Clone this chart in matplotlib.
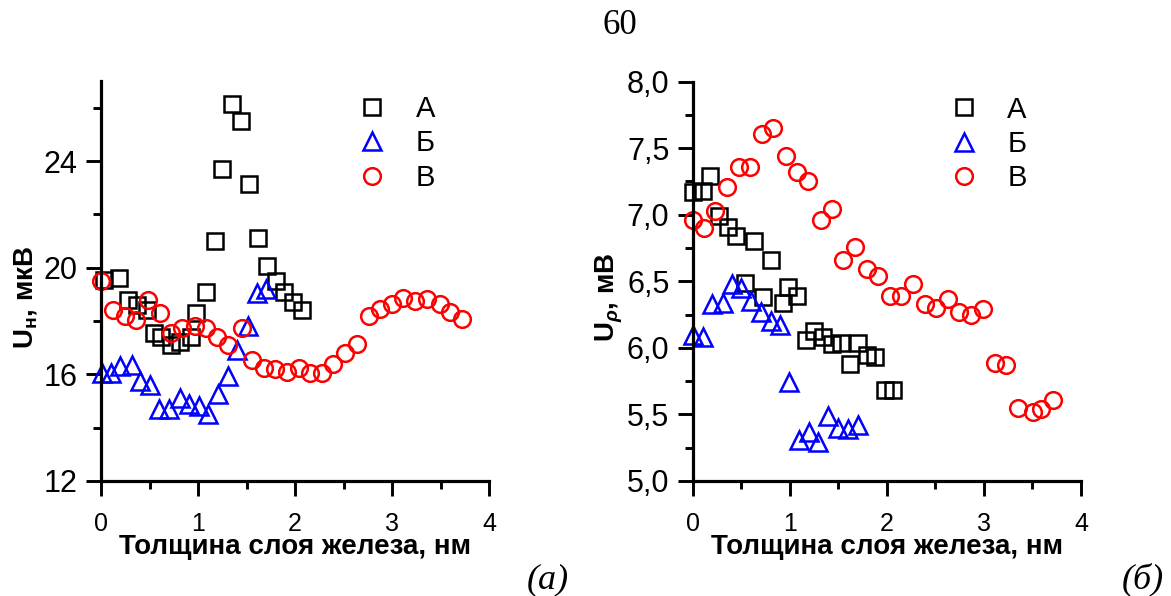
import matplotlib
matplotlib.use("Agg")
import matplotlib.pyplot as plt
from matplotlib.ticker import MultipleLocator, FuncFormatter

plt.rcParams['font.family'] = ['Liberation Sans', 'DejaVu Sans']
plt.rcParams['mathtext.fontset'] = 'custom'
plt.rcParams['mathtext.rm'] = 'Liberation Sans:bold'
plt.rcParams['mathtext.it'] = 'Liberation Sans:italic:bold'
plt.rcParams['mathtext.bf'] = 'Liberation Sans:bold'

# panel (a): U_H, мкВ
a_xA = [0.03, 0.18, 0.28, 0.37, 0.47, 0.55, 0.62, 0.72, 0.81, 0.93, 0.98, 1.08, 1.17,
        1.25, 1.35, 1.44, 1.53, 1.62, 1.71, 1.80, 1.89, 1.98, 2.07]
a_yA = [19.55, 19.6, 18.8, 18.6, 18.4, 17.55, 17.4, 17.1, 17.2, 17.4, 18.3, 19.1, 21.0,
        23.7, 26.15, 25.5, 23.15, 21.1, 20.07, 19.5, 19.1, 18.7, 18.4]
a_xB = [0.01, 0.1, 0.2, 0.32, 0.4, 0.5, 0.6, 0.7, 0.81, 0.91, 1.01, 1.1, 1.21, 1.31,
        1.4, 1.52, 1.61, 1.7]
a_yB = [16.05, 16.05, 16.3, 16.35, 15.75, 15.6, 14.7, 14.7, 15.1, 14.9, 14.8, 14.5,
        15.25, 15.95, 16.9, 17.8, 19.05, 19.2]
a_xC = [0.0, 0.12, 0.25, 0.36, 0.48, 0.61, 0.72, 0.83, 0.97, 1.08, 1.2, 1.31, 1.45, 1.56,
        1.68, 1.79, 1.92, 2.04, 2.15, 2.28, 2.39, 2.52, 2.64, 2.76, 2.88, 3.0, 3.11, 3.24,
        3.36, 3.49, 3.6, 3.72]
a_yC = [19.5, 18.4, 18.2, 18.05, 18.8, 18.3, 17.55, 17.75, 17.8, 17.75, 17.4, 17.1, 17.75,
        16.55, 16.25, 16.2, 16.1, 16.25, 16.05, 16.05, 16.4, 16.8, 17.15, 18.2, 18.45,
        18.65, 18.85, 18.75, 18.83, 18.65, 18.35, 18.08]

# panel (б): U_rho, мВ
b_xA = [0.0, 0.1, 0.18, 0.27, 0.36, 0.44, 0.54, 0.63, 0.72, 0.8, 0.93, 0.98, 1.07, 1.16,
        1.25, 1.34, 1.43, 1.53, 1.62, 1.70, 1.79, 1.88, 1.98, 2.06]
b_yA = [7.17, 7.18, 7.29, 6.99, 6.91, 6.84, 6.49, 6.8, 6.38, 6.66, 6.34, 6.46, 6.39, 6.06,
        6.13, 6.08, 6.03, 6.04, 5.88, 6.04, 5.95, 5.93, 5.68, 5.68]
b_xB = [0.0, 0.1, 0.2, 0.31, 0.4, 0.5, 0.6, 0.7, 0.8, 0.9, 0.99, 1.09, 1.2, 1.29, 1.39,
        1.49, 1.6, 1.7]
b_yB = [6.1, 6.08, 6.33, 6.34, 6.48, 6.45, 6.35, 6.27, 6.2, 6.17, 5.74, 5.31, 5.37, 5.29,
        5.49, 5.4, 5.39, 5.42]
b_xC = [0.0, 0.11, 0.23, 0.35, 0.47, 0.59, 0.71, 0.83, 0.96, 1.07, 1.19, 1.32, 1.43, 1.55,
        1.67, 1.79, 1.91, 2.03, 2.14, 2.27, 2.39, 2.51, 2.63, 2.74, 2.87, 2.99, 3.11, 3.23,
        3.35, 3.51, 3.59, 3.71]
b_yC = [6.96, 6.9, 7.03, 7.21, 7.36, 7.36, 7.61, 7.65, 7.44, 7.32, 7.25, 6.96, 7.04, 6.66,
        6.76, 6.59, 6.54, 6.39, 6.39, 6.48, 6.33, 6.3, 6.37, 6.27, 6.25, 6.29, 5.89, 5.87,
        5.55, 5.52, 5.54, 5.61]

names = ['А', 'Б', 'В']
xlabel = 'Толщина слоя железа, нм'


def style_axis(ax):
    for s in ['top', 'right']:
        ax.spines[s].set_visible(False)
    for s in ['left', 'bottom']:
        ax.spines[s].set_linewidth(2.3)
    ax.set_xlim(0, 4)
    ax.xaxis.set_major_locator(MultipleLocator(1))
    ax.xaxis.set_minor_locator(MultipleLocator(0.5))
    ax.tick_params(which='major', direction='out', length=11, width=2.1)
    ax.tick_params(which='minor', direction='out', length=6, width=2.1)
    ax.tick_params(axis='y', labelsize=22, pad=6)
    ax.tick_params(axis='x', labelsize=18, pad=11)
    ax.set_xlabel(xlabel, fontsize=20, fontweight='bold', labelpad=-1)


def draw(ax, xa, ya, xb, yb, xc, yc):
    kw = dict(linestyle='none', markerfacecolor='none', markeredgewidth=1.8, clip_on=False)
    ax.plot(xa, ya, 's', color='black', markersize=11.5, label=names[0], **kw)
    ax.plot(xb, yb, '^', color='blue', markersize=13.5, label=names[1], **kw)
    ax.plot(xc, yc, 'o', color='red', markersize=12, label=names[2], **kw)
    ax.legend(loc='upper left', bbox_to_anchor=(0.66, 0.965), frameon=False, fontsize=21,
              handlelength=1.0, handletextpad=1.0, labelspacing=0.22, borderpad=0,
              borderaxespad=0)


fig = plt.figure(figsize=(11.71, 5.96), dpi=100)
ax1 = fig.add_axes([0.0863, 0.193, 0.3313, 0.671])
ax2 = fig.add_axes([0.5918, 0.193, 0.3313, 0.670])

draw(ax1, a_xA, a_yA, a_xB, a_yB, a_xC, a_yC)
style_axis(ax1)
ax1.set_ylim(12, 27)
ax1.yaxis.set_major_locator(MultipleLocator(4))
ax1.yaxis.set_minor_locator(MultipleLocator(2))
ax1.set_ylabel('U$_\\mathrm{н}$, мкВ', fontsize=20, fontweight='bold', va='center')
ax1.yaxis.set_label_coords(-0.195, 0.46)

draw(ax2, b_xA, b_yA, b_xB, b_yB, b_xC, b_yC)
style_axis(ax2)
ax2.set_ylim(5, 8)
ax2.yaxis.set_major_locator(MultipleLocator(0.5))
ax2.yaxis.set_minor_locator(MultipleLocator(0.25))
ax2.yaxis.set_major_formatter(FuncFormatter(lambda v, p: ('%.1f' % v).replace('.', ',')))
ax2.set_ylabel('U$_\\rho$, мВ', fontsize=20, fontweight='bold', va='center')
ax2.yaxis.set_label_coords(-0.215, 0.46)

fig.text(0.5295, 0.958, '60', fontsize=25, family='Liberation Serif', ha='center', va='center')
fig.text(0.468, 0.027, '(а)', fontsize=26, family='Liberation Serif', style='italic',
         ha='center', va='center')
fig.text(0.976, 0.027, '(б)', fontsize=26, family='Liberation Serif', style='italic',
         ha='center', va='center')

fig.savefig('out.png', dpi=100)
